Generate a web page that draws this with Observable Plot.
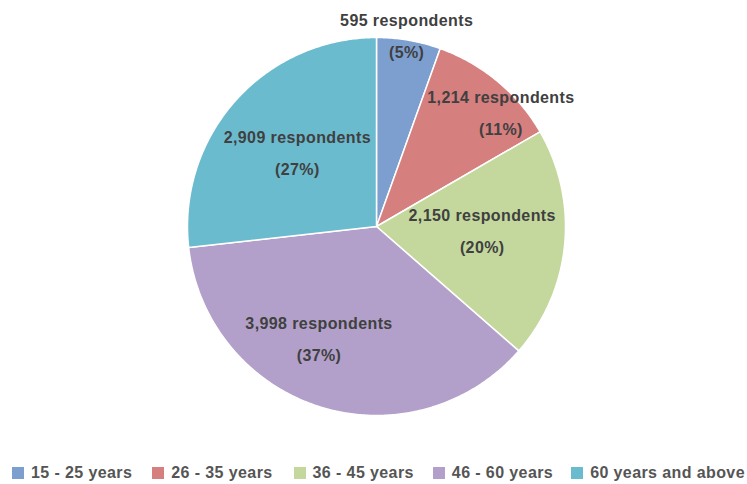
<!DOCTYPE html>
<html>
<head>
<meta charset="utf-8">
<script src="https://cdn.jsdelivr.net/npm/d3@7"></script>
<script src="https://cdn.jsdelivr.net/npm/@observablehq/plot@0.6"></script>
<style>
  html, body { margin: 0; padding: 0; background: #fff; }
  body { width: 747px; height: 484px; overflow: hidden; font-family: "Liberation Sans", Arial, sans-serif; }
  #chart svg text { letter-spacing: 0.4px; }
  #legend { display: flex; align-items: center; height: 24px; margin-top: 11px; padding-left: 12px; white-space: nowrap;
    font-size: 16px; font-weight: bold; color: #555; letter-spacing: 0.4px; }
  #legend .item { display: flex; align-items: center; }
  #legend .sw { width: 12px; height: 12px; margin-right: 7px; }
</style>
</head>
<body>
<div id="chart"></div>
<div id="legend"></div>
<script>
// ---- data ----
const ages = ["15 - 25 years", "26 - 35 years", "36 - 45 years", "46 - 60 years", "60 years and above"];
const respondents = [595, 1214, 2150, 3998, 2909];
const colors = ["#7c9fd0", "#d57f7f", "#c4d89d", "#b2a0ca", "#6bbbcf"];

// ---- layout (label anchor: angle in degrees clockwise from top, radius as fraction) ----
const labelAngle = [9, 47.7, 92.7, 207, 312.7];
const labelRadius = [1.02, 0.89, 0.56, 0.67, 0.57];
const legendGaps = [0, 20, 21, 19, 18];

const total = d3.sum(respondents);
const arcs = d3.pie().sort(null)(respondents);
const fmt = d3.format(",");

// slice outlines built from pie angles
const slicePts = [];
arcs.forEach((a, i) => {
  slicePts.push({age: ages[i], x: 0, y: 0});
  const n = Math.max(2, Math.ceil((a.endAngle - a.startAngle) / 0.01));
  for (let k = 0; k <= n; k++) {
    const t = a.startAngle + (a.endAngle - a.startAngle) * k / n;
    slicePts.push({age: ages[i], x: Math.sin(t), y: Math.cos(t)});
  }
});

const labels = respondents.map((v, i) => {
  const ang = labelAngle[i] * Math.PI / 180;
  return {
    x: labelRadius[i] * Math.sin(ang),
    y: labelRadius[i] * Math.cos(ang),
    text: `${fmt(v)} respondents\n(${Math.round(v / total * 100)}%)`
  };
});

const W = 747, H = 450, cx = 376, cy = 226, R = 189;
const chart = Plot.plot({
  width: W, height: H,
  marginLeft: cx - R, marginRight: W - (cx + R),
  marginTop: cy - R, marginBottom: H - (cy + R),
  x: {domain: [-1, 1], axis: null},
  y: {domain: [-1, 1], axis: null},
  color: {domain: ages, range: colors},
  style: {fontFamily: "'Liberation Sans', Arial, sans-serif", background: "#fff"},
  marks: [
    Plot.line(slicePts, {x: "x", y: "y", z: "age", fill: "age", stroke: "white", strokeWidth: 1.5, curve: "linear-closed"}),
    Plot.text(labels, {x: "x", y: "y", text: "text", fontSize: 16, fontWeight: "bold", fill: "#404040", lineHeight: 2, dy: -4.5})
  ]
});
document.getElementById("chart").appendChild(chart);

const legend = document.getElementById("legend");
ages.forEach((a, i) => {
  const item = document.createElement("div");
  item.className = "item";
  item.style.marginLeft = legendGaps[i] + "px";
  const sw = document.createElement("span");
  sw.className = "sw";
  sw.style.background = colors[i];
  const tx = document.createElement("span");
  tx.textContent = a;
  item.appendChild(sw);
  item.appendChild(tx);
  legend.appendChild(item);
});
</script>
</body>
</html>
